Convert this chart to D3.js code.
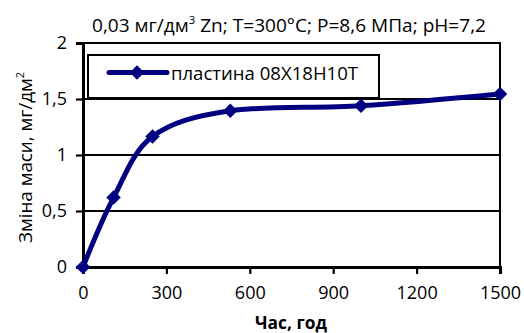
<!DOCTYPE html>
<html>
<head>
<meta charset="utf-8">
<script src="https://cdn.jsdelivr.net/npm/d3@7"></script>
<style>
  html, body { margin: 0; padding: 0; background: #fff; }
  svg { display: block; font-family: "Open Sans", "Liberation Sans", sans-serif; }
</style>
</head>
<body>
<svg id="chart" width="524" height="333"></svg>
<script>
// Mass gain of the 08X18H10T plate over exposure time
const hours = [0, 110, 250, 530, 1000, 1500];
const massChange = [0, 0.62, 1.165, 1.395, 1.44, 1.545];
const xTicks = [0, 300, 600, 900, 1200, 1500];
const yTicks = [0, 0.5, 1, 1.5, 2];
const seriesName = "пластина 08Х18Н10Т";

const svg = d3.select("#chart");
const margin = { left: 83, right: 24, top: 43, bottom: 66 };
const W = 524, H = 333;
const navy = "#000080";

const x = d3.scaleLinear().domain([0, 1500]).range([margin.left, W - margin.right]);
const y = d3.scaleLinear().domain([0, 2]).range([H - margin.bottom, margin.top]);
const fmt = d => String(d).replace(".", ",");

// horizontal grid lines
svg.append("g")
  .selectAll("line")
  .data(yTicks.filter(d => d > 0))
  .join("line")
  .attr("x1", x(0)).attr("x2", x(1500))
  .attr("y1", d => y(d)).attr("y2", d => y(d))
  .attr("stroke", "#000").attr("stroke-width", 2);

// plot frame
svg.append("rect")
  .attr("x", x(0)).attr("y", y(2))
  .attr("width", x(1500) - x(0)).attr("height", y(0) - y(2))
  .attr("fill", "none").attr("stroke", "#000").attr("stroke-width", 2);

// axes
const xAxis = svg.append("g")
  .attr("transform", `translate(0,${y(0)})`)
  .call(d3.axisBottom(x).tickValues(xTicks).tickSize(7).tickPadding(12).tickFormat(d => d));
const yAxis = svg.append("g")
  .attr("transform", `translate(${x(0)},0)`)
  .call(d3.axisLeft(y).tickValues(yTicks).tickSize(7).tickPadding(9).tickFormat(fmt));

[xAxis, yAxis].forEach(g => {
  g.select(".domain").attr("stroke", "#000").attr("stroke-width", 3);
  g.selectAll(".tick line").attr("stroke", "#000").attr("stroke-width", 2.2);
  g.selectAll(".tick text").attr("fill", "#000").attr("font-size", 18)
    .attr("font-family", "\"Open Sans\", sans-serif");
});

// legend box
const lg = svg.append("g");
lg.append("rect")
  .attr("x", 88).attr("y", 55).attr("width", 291).attr("height", 43)
  .attr("fill", "#fff").attr("stroke", "#000").attr("stroke-width", 2);
lg.append("line")
  .attr("x1", 109).attr("x2", 167).attr("y1", 72.5).attr("y2", 72.5)
  .attr("stroke", navy).attr("stroke-width", 5).attr("stroke-linecap", "round");
lg.append("path")
  .attr("d", d3.symbol(d3.symbolSquare, 105)())
  .attr("transform", "translate(137,72.5) rotate(45)")
  .attr("fill", navy);
lg.append("text")
  .attr("x", 171).attr("y", 80)
  .attr("font-size", 19).attr("fill", "#000")
  .attr("textLength", 187).attr("lengthAdjust", "spacingAndGlyphs")
  .text(seriesName);

// data line
const pts = hours.map((h, i) => [h, massChange[i]]);
svg.append("path")
  .datum(pts)
  .attr("d", d3.line().x(d => x(d[0])).y(d => y(d[1])).curve(d3.curveCatmullRom.alpha(0)))
  .attr("fill", "none").attr("stroke", navy).attr("stroke-width", 5)
  .attr("stroke-linejoin", "round");

svg.append("g")
  .selectAll("path")
  .data(pts)
  .join("path")
  .attr("d", d3.symbol(d3.symbolSquare, 105)())
  .attr("transform", d => `translate(${x(d[0])},${y(d[1])}) rotate(45)`)
  .attr("fill", navy);

// title
const title = svg.append("text")
  .attr("x", 92).attr("y", 32)
  .attr("font-size", 18.5).attr("fill", "#000")
  .attr("textLength", 394).attr("lengthAdjust", "spacingAndGlyphs");
title.append("tspan").text("0,03 мг/дм");
title.append("tspan").attr("font-size", 11).attr("dy", -8).text("3");
title.append("tspan").attr("dy", 8).text(" Zn; T=300°C; P=8,6 МПа; pH=7,2");

// x axis title
svg.append("text")
  .attr("x", 255).attr("y", 329)
  .attr("font-size", 18).attr("font-weight", "bold").attr("fill", "#000")
  .attr("textLength", 72).attr("lengthAdjust", "spacingAndGlyphs")
  .text("Час, год");

// y axis title
const yt = svg.append("text")
  .attr("transform", "translate(32,243) rotate(-90)")
  .attr("font-size", 19).attr("fill", "#000")
  .attr("textLength", 171).attr("lengthAdjust", "spacingAndGlyphs");
yt.append("tspan").text("Зміна маси, мг/дм");
yt.append("tspan").attr("font-size", 11).attr("dy", -8).text("2");
</script>
</body>
</html>
